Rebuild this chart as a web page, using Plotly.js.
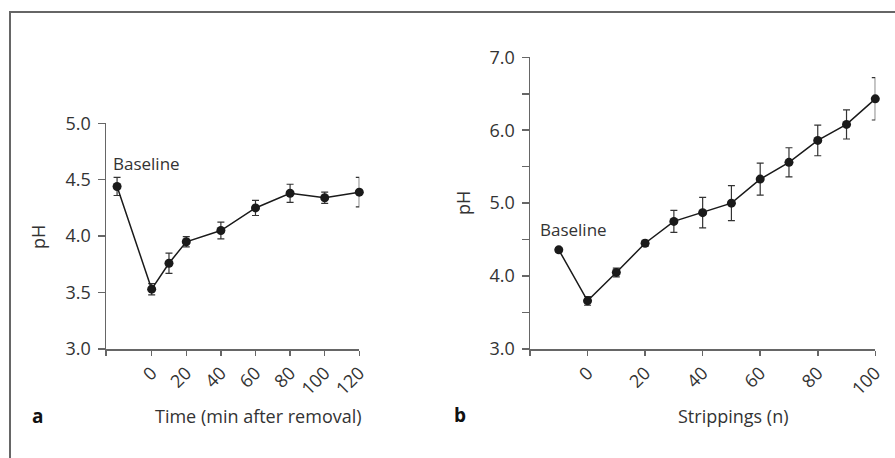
<!DOCTYPE html>
<html>
<head>
<meta charset="utf-8">
<script src="https://cdn.plot.ly/plotly-3.0.1.min.js"></script>
<style>html,body{margin:0;padding:0;background:#fff;}#chart{width:895px;height:458px;}</style>
</head>
<body>
<div id="chart"></div>
<script>
// Panel a: pH over time after removal
const timeA = [-20, 0, 10, 20, 40, 60, 80, 100, 120];
const phA = [4.44, 3.53, 3.76, 3.95, 4.05, 4.25, 4.38, 4.34, 4.39];
const errA = [0.08, 0.05, 0.09, 0.045, 0.075, 0.067, 0.08, 0.05, 0.13];
const tickValsA = [0, 20, 40, 60, 80, 100, 120];
const tickTextA = ['0', '20', '40', '60', '80', '100', '120'];

// Panel b: pH vs number of strippings
const stripB = [-10, 0, 10, 20, 30, 40, 50, 60, 70, 80, 90, 100];
const phB = [4.36, 3.66, 4.05, 4.45, 4.75, 4.87, 5.0, 5.33, 5.56, 5.86, 6.08, 6.43];
const errB = [0.03, 0.06, 0.06, 0.04, 0.15, 0.21, 0.24, 0.22, 0.2, 0.21, 0.2, 0.29];
const tickValsB = [0, 20, 40, 60, 80, 100];
const tickTextB = ['0', '20', '40', '60', '80', '100'];

const yTickValsA = [3.0, 3.5, 4.0, 4.5, 5.0];
const yTickTextA = ['3.0', '3.5', '4.0', '4.5', '5.0'];
const yTickValsB = [3.0, 3.5, 4.0, 4.5, 5.0, 5.5, 6.0, 6.5, 7.0];
const yTickTextB = ['3.0', '', '4.0', '', '5.0', '', '6.0', '', '7.0'];

const W = 895, H = 458;
const px = v => v / W;
const py = v => 1 - v / H;

const FONT = 'Open Sans, Noto Sans, sans-serif';
const TXT = '#333333';
const AXC = '#666666';
const FS = 18;
const PADY = '\u2009';

const rangeA = [-26.4, 120];
const rangeB = [-20, 100];

const traceStyle = {
  mode: 'lines+markers',
  line: {color: '#1a1a1a', width: 1.5},
  marker: {color: '#1a1a1a', size: 9},
  cliponaxis: false,
  showlegend: false,
  hoverinfo: 'x+y'
};

const data = [
  Object.assign({}, traceStyle, {
    x: timeA, y: phA, xaxis: 'x', yaxis: 'y',
    error_y: {type: 'data', array: errA, visible: true, color: '#333', thickness: 1.2, width: 3.5}
  }),
  Object.assign({}, traceStyle, {
    x: stripB, y: phB, xaxis: 'x2', yaxis: 'y2',
    error_y: {type: 'data', array: errB, visible: true, color: '#333', thickness: 1.2, width: 3.5}
  })
];

const axisCommon = {
  showgrid: false, zeroline: false, showline: true,
  linecolor: AXC, linewidth: 1.5,
  ticks: 'outside', ticklen: 5, tickwidth: 1.5, tickcolor: AXC,
  tickfont: {family: FONT, size: FS, color: TXT},
  fixedrange: true
};

const layout = {
  width: W, height: H,
  margin: {l: 0, r: 0, t: 0, b: 0},
  paper_bgcolor: '#ffffff', plot_bgcolor: '#ffffff',
  showlegend: false,
  xaxis: Object.assign({}, axisCommon, {
    domain: [px(106), px(359.3)], range: rangeA, anchor: 'y',
    tickmode: 'array', tickvals: [rangeA[0]].concat(tickValsA), ticktext: [''].concat(tickTextA),
    tickangle: -45
  }),
  yaxis: Object.assign({}, axisCommon, {
    domain: [py(349), py(123.3)], range: [3, 5], anchor: 'x', ticklen: 7,
    tickmode: 'array', tickvals: yTickValsA, ticktext: yTickTextA.map(t => t ? t + PADY : t)
  }),
  xaxis2: Object.assign({}, axisCommon, {
    domain: [px(530), px(875.3)], range: rangeB, anchor: 'y2',
    tickmode: 'array', tickvals: [rangeB[0]].concat(tickValsB), ticktext: [''].concat(tickTextB),
    tickangle: -45
  }),
  yaxis2: Object.assign({}, axisCommon, {
    domain: [py(349), py(57.3)], range: [3, 7], anchor: 'x2', ticklen: 7,
    tickmode: 'array', tickvals: yTickValsB, ticktext: yTickTextB.map(t => t ? t + PADY : t)
  }),
  shapes: [
    {type: 'line', xref: 'paper', yref: 'paper', x0: px(10), x1: px(10), y0: 0, y1: py(12),
     line: {color: '#666', width: 2}},
    {type: 'line', xref: 'paper', yref: 'paper', x0: px(9), x1: 1, y0: py(12), y1: py(12),
     line: {color: '#666', width: 2}}
  ],
  annotations: [
    {text: 'pH', xref: 'paper', yref: 'paper', x: px(38), y: py(237), textangle: -90,
     showarrow: false, xanchor: 'center', yanchor: 'middle', font: {family: FONT, size: FS, color: TXT}},
    {text: 'pH', xref: 'paper', yref: 'paper', x: px(463), y: py(203), textangle: -90,
     showarrow: false, xanchor: 'center', yanchor: 'middle', font: {family: FONT, size: FS, color: TXT}},
    {text: 'Time (min after removal)', xref: 'paper', yref: 'paper', x: px(258), y: py(416),
     showarrow: false, xanchor: 'center', yanchor: 'middle', font: {family: FONT, size: FS, color: TXT}},
    {text: 'Strippings (n)', xref: 'paper', yref: 'paper', x: px(733), y: py(416),
     showarrow: false, xanchor: 'center', yanchor: 'middle', font: {family: FONT, size: FS, color: TXT}},
    {text: '<b>a</b>', xref: 'paper', yref: 'paper', x: px(37), y: py(416),
     showarrow: false, xanchor: 'center', yanchor: 'middle', font: {family: FONT, size: 19, color: '#111'}},
    {text: '<b>b</b>', xref: 'paper', yref: 'paper', x: px(459.5), y: py(415),
     showarrow: false, xanchor: 'center', yanchor: 'middle', font: {family: FONT, size: 19, color: '#111'}},
    {text: 'Baseline', xref: 'paper', yref: 'paper', x: px(111), y: py(163.5),
     showarrow: false, xanchor: 'left', yanchor: 'middle', font: {family: FONT, size: 17, color: TXT}},
    {text: 'Baseline', xref: 'paper', yref: 'paper', x: px(537.5), y: py(229.5),
     showarrow: false, xanchor: 'left', yanchor: 'middle', font: {family: FONT, size: 17, color: TXT}}
  ]
};

Plotly.newPlot('chart', data, layout, {displayModeBar: false, staticPlot: true});
</script>
</body>
</html>
